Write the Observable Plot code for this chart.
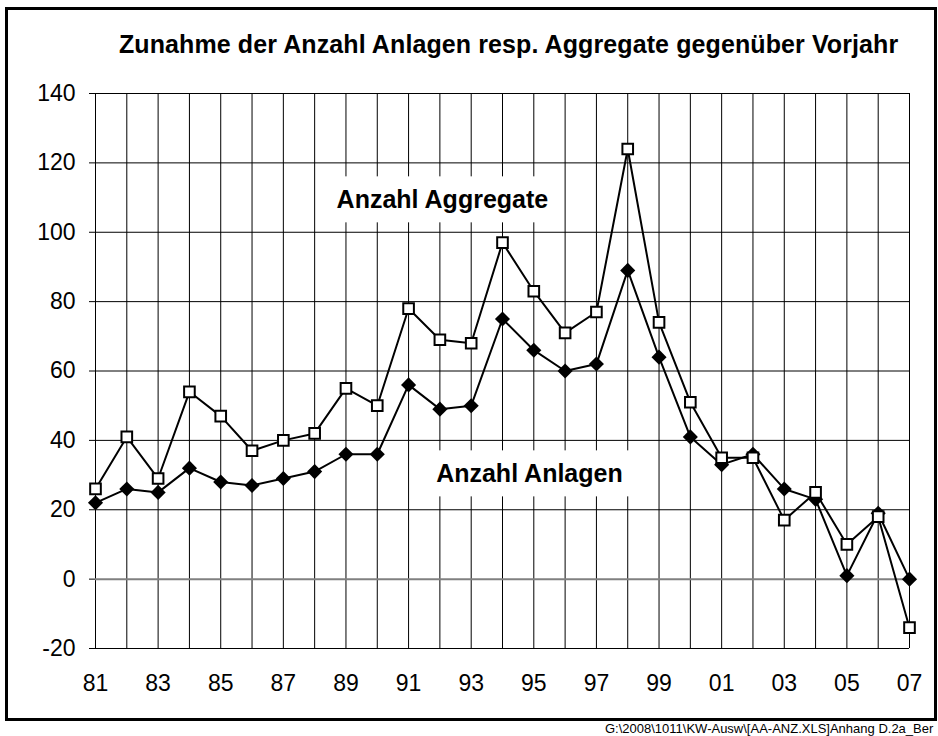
<!DOCTYPE html>
<html>
<head>
<meta charset="utf-8">
<script src="https://cdn.jsdelivr.net/npm/d3@7"></script>
<script src="https://cdn.jsdelivr.net/npm/@observablehq/plot@0.6"></script>
<style>
  html, body { margin: 0; padding: 0; background: #fff; }
  #wrap { position: relative; width: 938px; height: 736px; overflow: hidden; background: #fff;
          font-family: "Liberation Sans", Arial, sans-serif; color: #000; }
  #frame { position: absolute; left: 5px; top: 7px; width: 932px; height: 714px;
           box-sizing: border-box; border: 3px solid #000; pointer-events: none; }
  #title { position: absolute; left: 119px; top: 32px; white-space: nowrap;
           font-weight: bold; font-size: 25px; line-height: 25px; letter-spacing: 0.1px; }
  #footer { position: absolute; left: 605px; top: 722px; white-space: nowrap;
            font-size: 13px; line-height: 14px; }
  #chart { position: absolute; left: 0; top: 0; }
</style>
</head>
<body>
<div id="wrap">
  <div id="chart"></div>
  <div id="title">Zunahme der Anzahl Anlagen resp. Aggregate gegenüber Vorjahr</div>
  <div id="footer">G:\2008\1011\KW-Ausw\[AA-ANZ.XLS]Anhang D.2a_Ber</div>
  <div id="frame"></div>
</div>
<script>
// ---- data ----
const years = [1981,1982,1983,1984,1985,1986,1987,1988,1989,1990,1991,1992,1993,1994,
               1995,1996,1997,1998,1999,2000,2001,2002,2003,2004,2005,2006,2007];
const aggregate = [26,41,29,54,47,37,40,42,55,50,78,69,68,97,83,71,77,124,74,51,35,35,17,25,10,18,-14];
const anlagen   = [22,26,25,32,28,27,29,31,36,36,56,49,50,75,66,60,62,89,64,41,33,36,26,23,1,19,0];
const yTicks = [-20,0,20,40,60,80,100,120,140];
const xTicks = [1981,1983,1985,1987,1989,1991,1993,1995,1997,1999,2001,2003,2005,2007];
const seriesNames = ["Anzahl Aggregate", "Anzahl Anlagen"];
// annotation anchors (data units)
const nameYear  = [1992.08, 1994.86];
const nameValue = [109.2, 30.2];

const rows = years.map((y, i) => ({year: y, agg: aggregate[i], anl: anlagen[i]}));

const chart = Plot.plot({
  width: 938, height: 736,
  marginLeft: 95, marginRight: 29, marginTop: 93, marginBottom: 88,
  style: {fontFamily: "'Liberation Sans', Arial, sans-serif", fontSize: "23px",
          color: "#000", background: "transparent", overflow: "visible"},
  x: {domain: [1981, 2007], ticks: xTicks, tickFormat: d => String(d).slice(2),
      tickSize: 0, tickPadding: 26, label: null},
  y: {domain: [-20, 140], ticks: yTicks, tickFormat: d => String(d),
      tickSize: 6, tickPadding: 14, label: null},
  marks: [
    Plot.ruleX(years, {stroke: "#000", strokeWidth: 1}),
    Plot.ruleY(yTicks.filter(d => d !== 0), {stroke: "#000", strokeWidth: 1}),
    Plot.ruleY([0], {stroke: "#808080", strokeWidth: 2}),
    Plot.text(seriesNames, {x: nameYear, y: nameValue, text: d => d,
      fontWeight: "bold", fontSize: 25, fill: "#000"}),
    Plot.line(rows, {x: "year", y: "anl", stroke: "#000", strokeWidth: 2}),
    Plot.dot(rows, {x: "year", y: "anl", symbol: "diamond2", r: 6.8, fill: "#000", stroke: "none"}),
    Plot.line(rows, {x: "year", y: "agg", stroke: "#000", strokeWidth: 2}),
    Plot.dot(rows, {x: "year", y: "agg", symbol: "square", r: 6, fill: "#fff",
      stroke: "#000", strokeWidth: 2})
  ]
});
document.getElementById("chart").appendChild(chart);

// white boxes behind the series names
chart.querySelectorAll("text").forEach(t => {
  if (!seriesNames.includes(t.textContent)) return;
  const b = t.getBBox();
  const r = document.createElementNS("http://www.w3.org/2000/svg", "rect");
  r.setAttribute("x", b.x - 10);
  r.setAttribute("y", b.y - 9);
  r.setAttribute("width", b.width + 20);
  r.setAttribute("height", b.height + 18);
  r.setAttribute("fill", "#fff");
  const tr = t.getAttribute("transform");
  if (tr) r.setAttribute("transform", tr);
  if (t.hasAttribute("x")) r.setAttribute("x", +t.getAttribute("x") * 0 + b.x - 10);
  t.parentNode.insertBefore(r, t);
});
</script>
</body>
</html>
